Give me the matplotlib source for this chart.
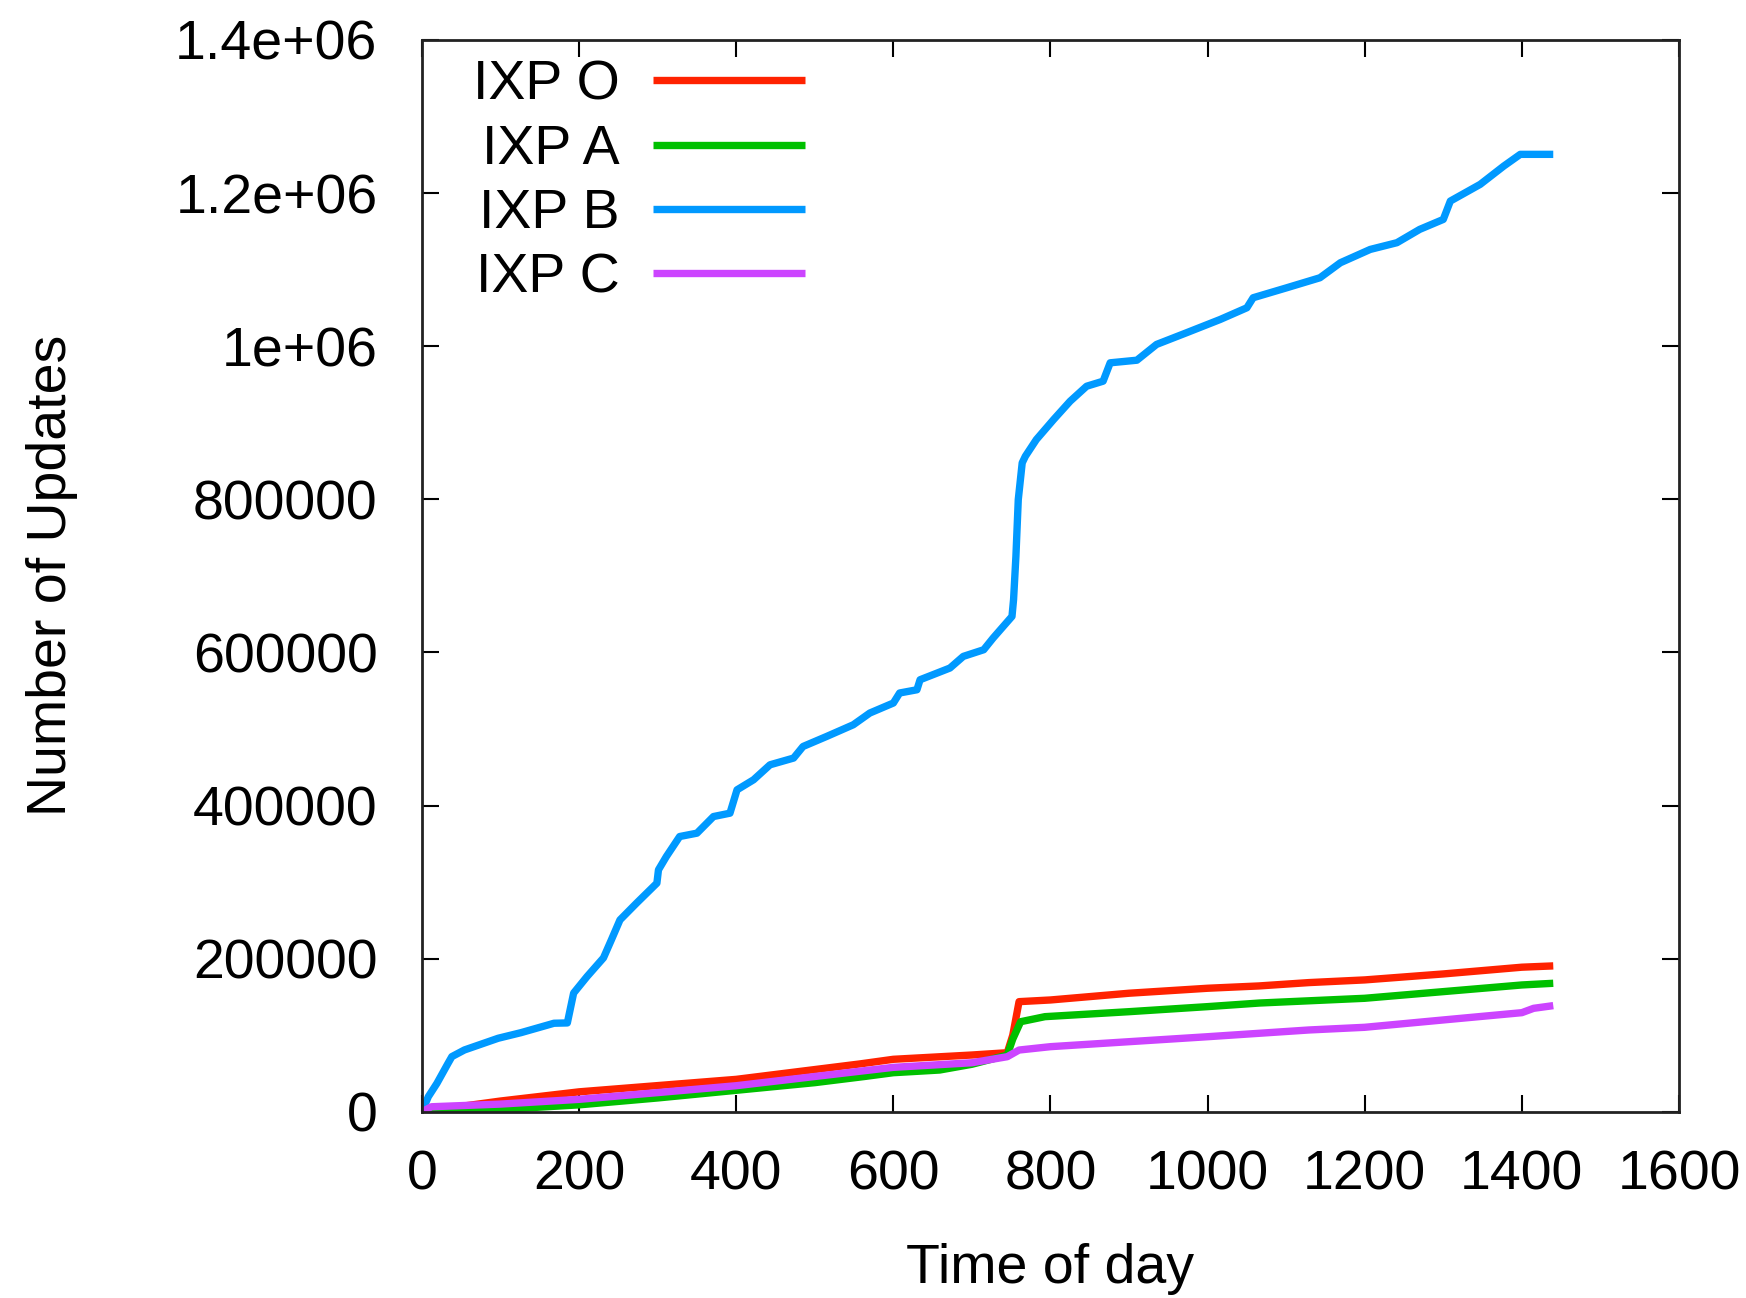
import matplotlib
matplotlib.use("Agg")
import matplotlib.pyplot as plt
from matplotlib.ticker import FuncFormatter

plt.rcParams['font.family'] = ['Liberation Sans', 'DejaVu Sans']

# IXP O
t_o = [0, 100, 200, 400, 557, 600, 700, 745, 752, 760, 800, 900, 1000, 1065, 1129, 1200, 1300, 1400, 1440]
v_o = [0, 14000, 26000, 42300, 62400, 68500, 74100, 77100, 100000, 143800, 146000, 154800, 161300,
       164300, 168700, 172200, 180000, 188800, 190500]

# IXP A
t_a = [0, 100, 200, 300, 400, 500, 563, 600, 659, 700, 745, 752, 762, 793, 900, 1000, 1066, 1200, 1300, 1400, 1440]
v_a = [0, 3000, 9000, 18000, 28000, 38000, 46000, 51000, 54500, 62000, 74000, 95000, 117600, 124200,
       130700, 137300, 142000, 148200, 156900, 165600, 167800]

# IXP B
t_b = [0, 8, 19, 33, 38, 54, 97, 126, 168, 185, 193, 210, 231, 241, 252, 273, 299, 301, 311, 328, 350,
       371, 392, 401, 422, 443, 473, 485, 515, 549, 570, 600, 608, 630, 634, 672, 689, 715, 727, 751,
       753, 756, 759, 764, 768, 782, 804, 825, 846, 867, 876, 910, 935, 973, 1016, 1050, 1058, 1101,
       1143, 1169, 1207, 1241, 1270, 1300, 1309, 1347, 1377, 1398, 1440]
v_b = [0, 19600, 37100, 63000, 72000, 80700, 96000, 103300, 115600, 116000, 155000, 176500, 201000,
       224400, 250600, 272400, 298600, 316000, 333300, 359500, 363900, 385600, 390000, 420500, 433600,
       453200, 462000, 477100, 490200, 505500, 520800, 533900, 547000, 551200, 564300, 579600, 594800,
       603500, 618800, 647000, 668900, 725500, 799600, 847600, 856200, 878000, 904200, 928100, 947700,
       954300, 978300, 981700, 1002300, 1017500, 1034900, 1050200, 1063300, 1076400, 1089400, 1109000,
       1126400, 1135200, 1152600, 1165600, 1189600, 1211400, 1235300, 1250600, 1250600]

# IXP C
t_c = [0, 12, 100, 200, 300, 400, 563, 600, 700, 745, 760, 800, 900, 1000, 1129, 1200, 1300, 1400, 1415, 1440]
v_c = [0, 6500, 10000, 16200, 25000, 34000, 53600, 58000, 64000, 71900, 80600, 85000, 91500, 98000,
       106800, 110300, 119900, 129400, 135100, 138600]

series = [("IXP O", t_o, v_o, "#ff2200"),
          ("IXP A", t_a, v_a, "#00c000"),
          ("IXP B", t_b, v_b, "#0099ff"),
          ("IXP C", t_c, v_c, "#cc44ff")]

fig = plt.figure(figsize=(17.46, 12.98), dpi=100)
ax = fig.add_axes([0.2417, 0.1435, 0.7199, 0.8257])

for name, t, v, col in series:
    ax.plot(t, v, color=col, lw=5.3, label=name, solid_capstyle='butt')

ax.set_xlim(0, 1600)
ax.set_ylim(0, 1400000)
ax.set_xticks(range(0, 1601, 200))
ax.set_yticks(range(0, 1400001, 200000))
ax.yaxis.set_major_formatter(FuncFormatter(lambda y, p: '%g' % y))
ax.tick_params(direction='in', length=12, width=1.5, labelsize=40, top=True, right=True)
ax.tick_params(axis='x', pad=27)
ax.tick_params(axis='y', pad=32)
for s in ax.spines.values():
    s.set_linewidth(2)
    s.set_color('#222222')

ax.set_xlabel('Time of day', fontsize=40, labelpad=30)
ax.set_ylabel('Number of Updates', fontsize=40, labelpad=70)

ax.legend(loc='upper left', bbox_to_anchor=(0.038, 0.984), markerfirst=False, frameon=False,
          fontsize=40, handlelength=2.75, handletextpad=0.6, labelspacing=0.22,
          borderaxespad=0, borderpad=0.05)

fig.savefig('out.png', dpi=100)
